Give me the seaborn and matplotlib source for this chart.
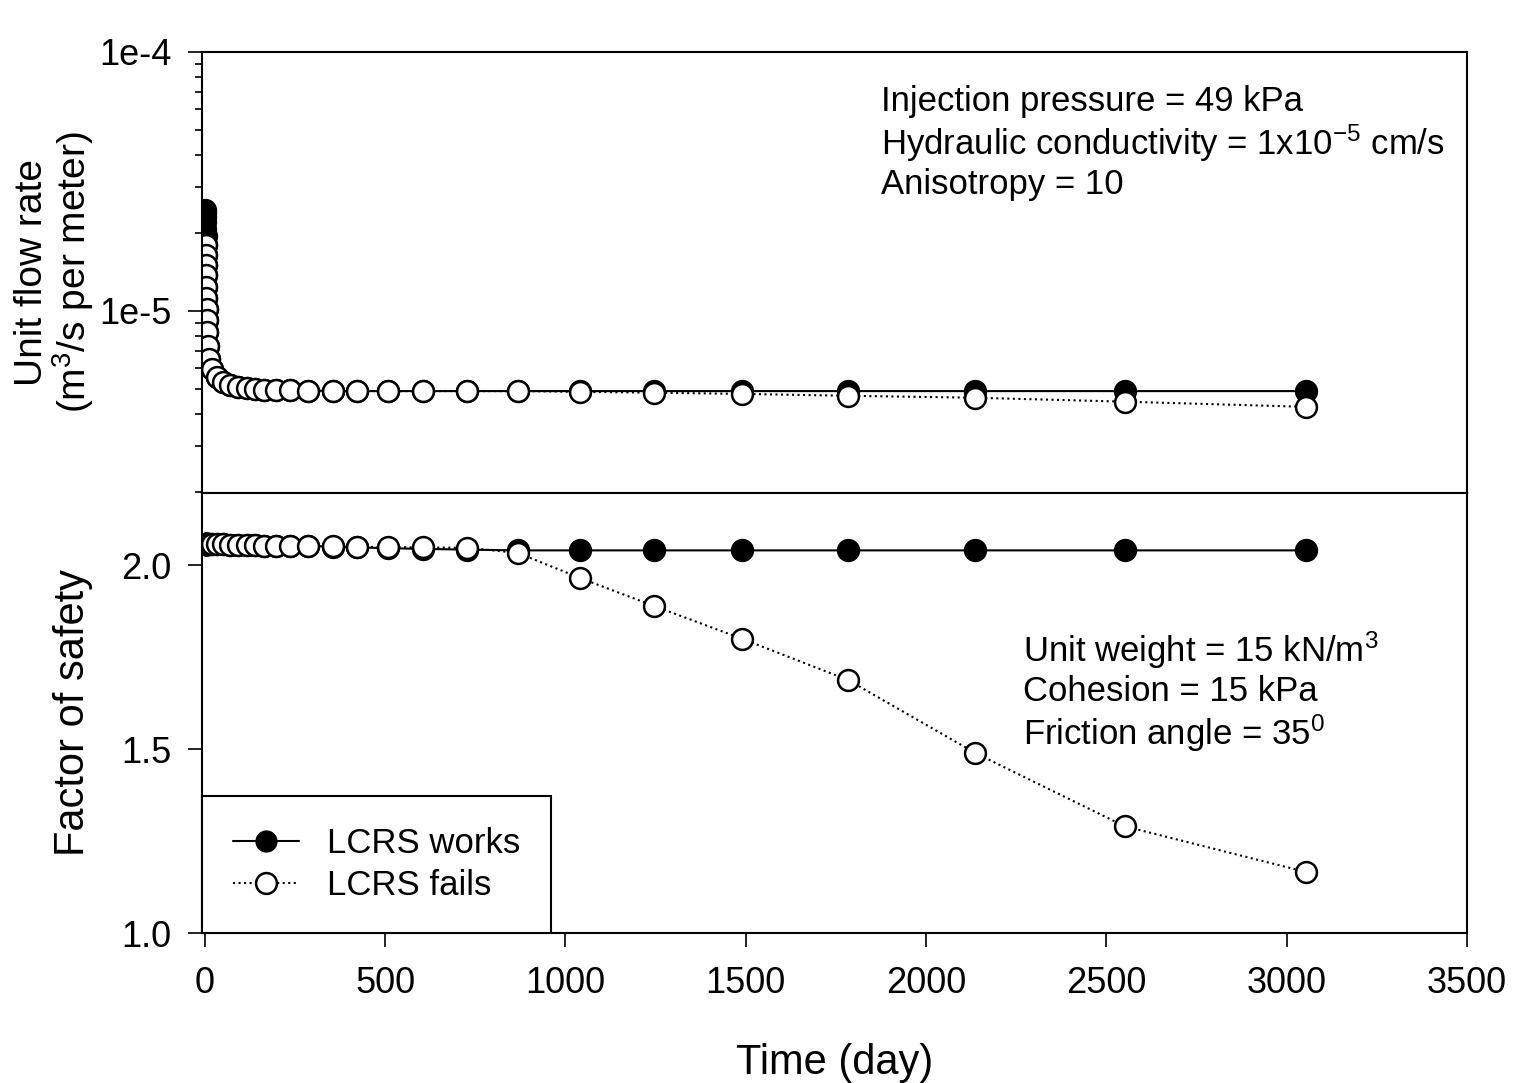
import matplotlib
matplotlib.use("Agg")
import matplotlib.pyplot as plt
import seaborn as sns
import pandas as pd
from matplotlib.lines import Line2D

# ---------------- data ----------------
time_day = [0, 0.3, 0.6, 1, 1.4, 1.8, 2.2, 2.6, 3, 3.5, 4, 4.5, 5, 6, 7, 8.5,
            11, 20, 33, 50, 69, 92, 116, 139, 165, 196, 236, 286,
            355, 421, 507, 605, 727, 868, 1040, 1245, 1489, 1783, 2135, 2551, 3053]

flow_works = [2.45e-5, 2.38e-5, 2.30e-5, 2.20e-5, 2.08e-5, 1.95e-5, 1.80e-5, 1.65e-5,
              1.50e-5, 1.37e-5, 1.24e-5, 1.12e-5, 1.02e-5, 9.2e-6, 8.3e-6, 7.3e-6,
              6.5e-6, 5.95e-6, 5.55e-6, 5.30e-6, 5.18e-6, 5.10e-6, 5.05e-6, 5.00e-6,
              4.97e-6, 4.95e-6, 4.93e-6, 4.92e-6,
              4.91e-6, 4.90e-6, 4.90e-6, 4.90e-6, 4.90e-6, 4.90e-6, 4.90e-6, 4.90e-6,
              4.90e-6, 4.90e-6, 4.90e-6, 4.90e-6, 4.90e-6]

# "fails" series starts at index 6 (t = 2.2 d)
flow_fails = [None] * 6 + [
              1.80e-5, 1.65e-5,
              1.50e-5, 1.37e-5, 1.24e-5, 1.12e-5, 1.02e-5, 9.2e-6, 8.3e-6, 7.3e-6,
              6.5e-6, 5.95e-6, 5.55e-6, 5.30e-6, 5.18e-6, 5.10e-6, 5.05e-6, 5.00e-6,
              4.97e-6, 4.95e-6, 4.93e-6, 4.92e-6,
              4.91e-6, 4.90e-6, 4.90e-6, 4.90e-6, 4.90e-6, 4.90e-6, 4.87e-6, 4.83e-6,
              4.78e-6, 4.70e-6, 4.62e-6, 4.46e-6, 4.26e-6]

fos_works = [2.058, 2.058, 2.058, 2.058, 2.058, 2.058, 2.058, 2.058, 2.058, 2.058,
             2.058, 2.058, 2.058, 2.058, 2.058, 2.058,
             2.056, 2.056, 2.056, 2.056, 2.054, 2.054, 2.054, 2.054,
             2.052, 2.052, 2.052, 2.052,
             2.050, 2.048, 2.046, 2.044, 2.042, 2.040, 2.040, 2.040,
             2.040, 2.040, 2.040, 2.040, 2.040]

fos_fails = [None] * 6 + [
             2.058, 2.058, 2.058, 2.058,
             2.058, 2.058, 2.058, 2.058, 2.058, 2.058,
             2.056, 2.056, 2.056, 2.056, 2.054, 2.054, 2.054, 2.054,
             2.052, 2.052, 2.052, 2.052,
             2.051, 2.050, 2.049, 2.048, 2.047, 2.033, 1.965, 1.889,
             1.800, 1.688, 1.490, 1.290, 1.166]

series_labels = ["LCRS works", "LCRS fails"]
x_ticks = [0, 500, 1000, 1500, 2000, 2500, 3000, 3500]
fos_ticks = [1.0, 1.5, 2.0]

df = pd.DataFrame({"time": time_day, "flow_works": flow_works, "flow_fails": flow_fails,
                   "fos_works": fos_works, "fos_fails": fos_fails})
dfw = df
dff = df.dropna()

# ---------------- style ----------------
sns.set_theme(style="ticks")
plt.rcParams["font.family"] = ["Liberation Sans", "DejaVu Sans"]
plt.rcParams["mathtext.fontset"] = "custom"
plt.rcParams["mathtext.rm"] = "Liberation Sans"
plt.rcParams["mathtext.it"] = "Liberation Sans"
for k in ("text.color", "axes.labelcolor", "xtick.color", "ytick.color", "axes.edgecolor"):
    plt.rcParams[k] = "black"

fig = plt.figure(figsize=(15.13, 10.83), dpi=100)
L, R = 0.1335, 0.9696
ax1 = fig.add_axes([L, 0.5448, R - L, 0.952 - 0.5448])
ax2 = fig.add_axes([L, 0.1385, R - L, 0.5448 - 0.1385], sharex=ax1)

ms = 15
mew = 1.8
works_kw = dict(color="black", marker="o", markersize=ms, markerfacecolor="black",
                markeredgecolor="black", markeredgewidth=mew, linewidth=1.5,
                linestyle="-", estimator=None, sort=False)
fails_kw = dict(color="black", marker="o", markersize=ms, markerfacecolor="white",
                markeredgecolor="black", markeredgewidth=mew, linewidth=1.5,
                linestyle=":", estimator=None, sort=False)

sns.lineplot(data=dfw, x="time", y="flow_works", ax=ax1, **works_kw)
sns.lineplot(data=dff, x="time", y="flow_fails", ax=ax1, **fails_kw)
sns.lineplot(data=dfw, x="time", y="fos_works", ax=ax2, **works_kw)
sns.lineplot(data=dff, x="time", y="fos_fails", ax=ax2, **fails_kw)

# ---------------- axes ----------------
ax1.set_yscale("log")
ax1.set_ylim(1.98e-6, 1e-4)
ax1.set_yticks([1e-5, 1e-4])
ax1.set_yticklabels(["1e-5", "1e-4"])
ax1.set_xlim(-8, 3500)
ax1.tick_params(axis="x", which="both", bottom=False, labelbottom=False)
ax1.tick_params(axis="y", which="major", length=10, width=1.2, labelsize=26,
                direction="out", pad=12)
ax1.tick_params(axis="y", which="minor", length=5, width=1.2, direction="out")
ax1.set_xlabel("")
ax1.set_ylabel("Unit flow rate\n(m$^3$/s per meter)", fontsize=28, labelpad=2,
               linespacing=1.0)

ax2.set_ylim(1.0, 2.196)
ax2.set_yticks(fos_ticks)
ax2.set_yticklabels(["1.0", "1.5", "2.0"])
ax2.set_xticks(x_ticks)
ax2.set_xticklabels([str(v) for v in x_ticks])
ax2.tick_params(axis="both", which="major", length=10, width=1.2, labelsize=26,
                direction="out")
ax2.tick_params(axis="y", pad=12)
ax2.tick_params(axis="x", pad=14)
ax2.set_xlabel("Time (day)", fontsize=30, labelpad=30)
ax2.set_ylabel("Factor of safety", fontsize=30, labelpad=20)

for ax in (ax1, ax2):
    for sp in ax.spines.values():
        sp.set_visible(True)
        sp.set_linewidth(1.5)
        sp.set_color("black")

# ---------------- annotations ----------------
ax1.text(0.537, 0.925,
         "Injection pressure = 49 kPa\n"
         "Hydraulic conductivity = 1x10$^{-5}$ cm/s\n"
         "Anisotropy = 10",
         transform=ax1.transAxes, fontsize=25, va="top", ha="left", linespacing=1.15)
ax2.text(0.649, 0.69,
         "Unit weight = 15 kN/m$^3$\n"
         "Cohesion = 15 kPa\n"
         "Friction angle = 35$^0$",
         transform=ax2.transAxes, fontsize=25, va="top", ha="left", linespacing=1.15)

handles = [Line2D([], [], color="black", linestyle="-", linewidth=1.5, marker="o",
                  markersize=ms, markerfacecolor="black", markeredgecolor="black"),
           Line2D([], [], color="black", linestyle=":", linewidth=1.5, marker="o",
                  markersize=ms, markerfacecolor="white", markeredgecolor="black",
                  markeredgewidth=mew)]
leg = ax2.legend(handles, series_labels, loc="lower left", bbox_to_anchor=(0, 0),
                 borderaxespad=0, fontsize=25, frameon=True, fancybox=False,
                 handlelength=1.9, handletextpad=0.8, borderpad=0.9, labelspacing=0.25)
leg.get_frame().set_edgecolor("black")
leg.get_frame().set_linewidth(1.5)
leg.get_frame().set_alpha(1)

fig.savefig("out.png", dpi=100)
